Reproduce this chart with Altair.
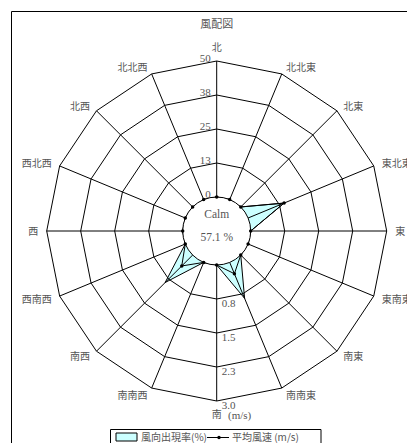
import math
import altair as alt
import pandas as pd

# ---------------- data ----------------
directions = ["北", "北北東", "北東", "東北東", "東", "東南東", "南東", "南南東",
              "南", "南南西", "南西", "西南西", "西", "西北西", "北西", "北北西"]
freq_pct = [0, 0, 0, 14.3, 0, 0, 0, 14.3, 0, 0, 14.3, 0, 0, 0, 0, 0]
mean_speed = [0, 0, 0, 0.86, 0, 0, 0, 0.27, 0, 0, 0.34, 0, 0, 0, 0, 0]
freq_tick_labels = ["0", "13", "25", "38", "50"]
speed_tick_labels = ["0.8", "1.5", "2.3", "3.0"]
calm_pct = [57.1]
freq_max = 50
speed_max = 3.0
title_text = "風配図"
legend_labels = ["風向出現率(%)", "平均風速 (m/s)"]

# ---------------- layout ----------------
W, H = 407, 443
CX, CY = 216.7, 231.0
R_IN, R_OUT = 34.0, 170.0
SPAN = R_OUT - R_IN
N_DIR = len(directions)
N_RING = len(freq_tick_labels) - 1
STEP = SPAN / N_RING
JP = "Noto Sans CJK JP"
SERIF = "Liberation Serif"
TXT = "#555555"
CYAN = "#ccffff"

xs = alt.Scale(domain=[-CX, W - CX], nice=False, zero=False)
ys = alt.Scale(domain=[CY - H, CY], nice=False, zero=False)
X = alt.X("x:Q", scale=xs, axis=None)
Y = alt.Y("y:Q", scale=ys, axis=None)

loop = pd.DataFrame({
    "j": list(range(N_DIR + 1)),
    "name": directions + directions[:1],
    "freq": freq_pct + freq_pct[:1],
    "speed": mean_speed + mean_speed[:1],
})
dirs = loop.iloc[:N_DIR].copy()
rings = pd.DataFrame([{"k": k, "j": j} for k in range(1, N_RING + 1) for j in range(N_DIR + 1)])
ftick = pd.DataFrame({"k": list(range(len(freq_tick_labels))), "label": freq_tick_labels})
stick = pd.DataFrame({"k": list(range(1, len(speed_tick_labels) + 1)), "label": speed_tick_labels})
calm = pd.DataFrame({"calm": calm_pct})
one = pd.DataFrame({"v": [0]})


def polar(chart, r_expr):
    return (chart.transform_calculate(r=r_expr)
                 .transform_calculate(a=f"datum.j*2*PI/{N_DIR}")
                 .transform_calculate(x="datum.r*sin(datum.a)", y="datum.r*cos(datum.a)"))


# frequency polygon
freq_poly = polar(alt.Chart(loop), f"{R_IN}+datum.freq/{freq_max}*{SPAN}").mark_line(
    fill=CYAN, stroke="black", strokeWidth=1, interpolate="linear"
).encode(x=X, y=Y, order="j:Q")

# rings
ring_lines = polar(alt.Chart(rings), f"{R_IN}+datum.k*{STEP}").mark_line(
    stroke="black", strokeWidth=1
).encode(x=X, y=Y, detail="k:N", order="j:Q")

# spokes
spokes = (alt.Chart(dirs)
          .transform_calculate(a=f"datum.j*2*PI/{N_DIR}")
          .transform_calculate(x=f"{R_IN}*sin(datum.a)", y=f"{R_IN}*cos(datum.a)",
                               x2=f"{R_OUT}*sin(datum.a)", y2=f"{R_OUT}*cos(datum.a)")
          .mark_rule(stroke="black", strokeWidth=1)
          .encode(x=X, y=Y, x2="x2:Q", y2="y2:Q"))

# speed line
speed_line = polar(alt.Chart(loop), f"{R_IN}+datum.speed/{speed_max}*{SPAN}").mark_line(
    stroke="black", strokeWidth=1
).encode(x=X, y=Y, order="j:Q")

# calm circle
calm_circle = (alt.Chart(calm)
               .transform_calculate(x="0", y="0")
               .mark_point(shape="circle", size=(2 * R_IN) ** 2, filled=True,
                           fill="white", stroke="black", strokeWidth=1, opacity=1)
               .encode(x=X, y=Y))

speed_dots = polar(alt.Chart(dirs), f"{R_IN}+datum.speed/{speed_max}*{SPAN}").mark_point(
    shape="circle", size=12, filled=True, color="black", opacity=1
).encode(x=X, y=Y)

calm_word = (alt.Chart(calm).transform_calculate(x="0", y="0", t="'Calm'")
             .mark_text(font=SERIF, fontSize=11.5, color=TXT, dy=-16.5, baseline="middle")
             .encode(x=X, y=Y, text="t:N"))
calm_val = (alt.Chart(calm).transform_calculate(x="0", y="0", t="format(datum.calm,'.1f')+' %'")
            .mark_text(font=SERIF, fontSize=11.5, color=TXT, dy=6.5, baseline="middle")
            .encode(x=X, y=Y, text="t:N"))

# tick labels
ftick_text = (alt.Chart(ftick).transform_calculate(x="0", y=f"{R_IN}+datum.k*{STEP}")
              .mark_text(font=SERIF, fontSize=11, color=TXT, align="right",
                         baseline="alphabetic", dx=-6, dy=1)
              .encode(x=X, y=Y, text="label:N"))
stick_text = (alt.Chart(stick).transform_calculate(x="0", y=f"-({R_IN}+datum.k*{STEP})")
              .mark_text(font=SERIF, fontSize=11, color=TXT, align="left",
                         baseline="top", dx=5, dy=-1)
              .encode(x=X, y=Y, text="label:N"))

# direction labels
LAB_R = 177


def dir_labels(filt, **kw):
    return (polar(alt.Chart(dirs), f"{LAB_R}").transform_filter(filt)
            .mark_text(font=JP, fontSize=10, color=TXT, **kw)
            .encode(x=X, y=Y, text="name:N"))


lab_right = dir_labels(f"datum.j>0 && datum.j<{N_DIR // 2}", align="left", baseline="middle", dx=1.5, dy=1)
lab_left = dir_labels(f"datum.j>{N_DIR // 2}", align="right", baseline="middle", dx=-1.5, dy=1)
lab_top = dir_labels("datum.j==0", align="center", baseline="bottom", dy=-1)
lab_bot = dir_labels(f"datum.j=={N_DIR // 2}", align="center", baseline="top", dy=2)

unit_text = (alt.Chart(one).mark_text(font=SERIF, fontSize=11, color=TXT, align="left", baseline="middle")
             .encode(x=alt.value(228), y=alt.value(416), text=alt.value("(m/s)")))

title = (alt.Chart(one).mark_text(font=JP, fontSize=11, color=TXT, align="center", baseline="middle")
         .encode(x=alt.value(CX), y=alt.value(25), text=alt.value(title_text)))

frame = (alt.Chart(one).mark_rect(fillOpacity=0, stroke="black", strokeWidth=1)
         .encode(x=alt.value(11.5), y=alt.value(11.5), x2=alt.value(480), y2=alt.value(520)))

# legend
leg_box = (alt.Chart(one).mark_rect(fill="white", stroke="black", strokeWidth=1)
           .encode(x=alt.value(110.5), y=alt.value(429.5), x2=alt.value(321), y2=alt.value(480)))
leg_swatch = (alt.Chart(one).mark_rect(fill=CYAN, stroke="black", strokeWidth=1)
              .encode(x=alt.value(116), y=alt.value(433), x2=alt.value(137), y2=alt.value(441)))
leg_t1 = (alt.Chart(one).mark_text(font=JP, fontSize=10, color=TXT, align="left", baseline="middle")
          .encode(x=alt.value(141), y=alt.value(437.5), text=alt.value(legend_labels[0])))
leg_line = (alt.Chart(one).mark_rule(stroke="black", strokeWidth=1)
            .encode(x=alt.value(207), x2=alt.value(229), y=alt.value(437.5)))
leg_dot = (alt.Chart(one).mark_point(shape="circle", size=12, filled=True, color="black", opacity=1)
           .encode(x=alt.value(219), y=alt.value(437.5)))
leg_t2 = (alt.Chart(one).mark_text(font=JP, fontSize=10, color=TXT, align="left", baseline="middle")
          .encode(x=alt.value(232), y=alt.value(437.5), text=alt.value(legend_labels[1])))

chart = alt.layer(
    frame, title,
    freq_poly, ring_lines, spokes, speed_line, calm_circle, speed_dots,
    calm_word, calm_val, ftick_text, stick_text,
    lab_right, lab_left, lab_top, lab_bot, unit_text,
    leg_box, leg_swatch, leg_t1, leg_line, leg_dot, leg_t2,
).properties(
    width=W, height=H, padding=0, autosize="none", background="white"
).configure_view(strokeOpacity=0)

chart.save("out.html", embed_options={"renderer": "svg", "actions": False})
